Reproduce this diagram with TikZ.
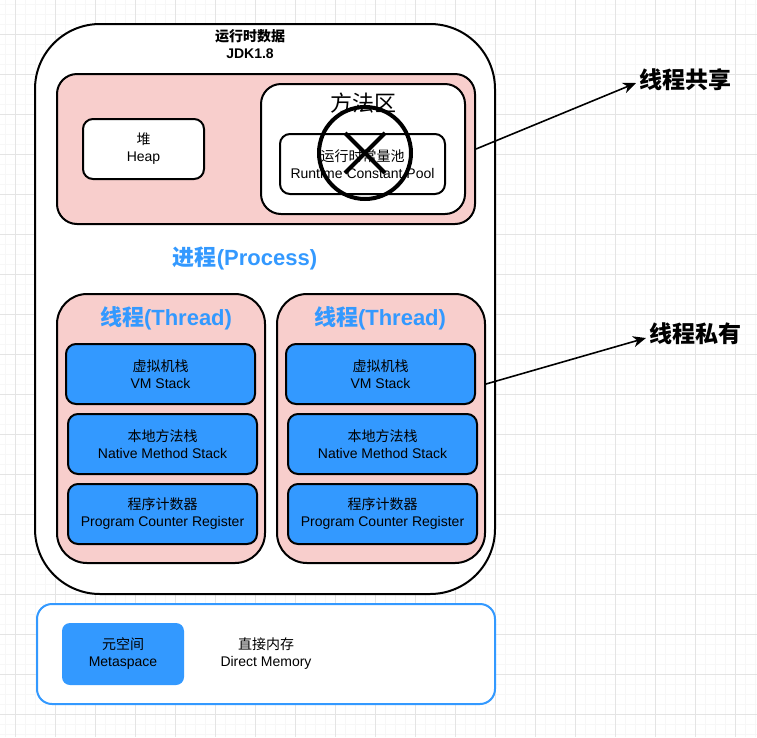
\documentclass[tikz,border=0pt]{standalone}
\usepackage{fontspec}
\setmainfont{Liberation Sans}
\newfontfamily\cjk{Noto Sans CJK SC}
\usepackage{tikz}
\usetikzlibrary{positioning,arrows.meta}
\definecolor{pinkfill}{HTML}{F8CECC}
\definecolor{blueboxfill}{HTML}{3399FF}
\definecolor{gridmajor}{HTML}{E4E4E4}
\definecolor{gridminor}{HTML}{F7F7F7}
\tikzstyle{every node}=[align=center,font=\fontsize{14}{17}\selectfont]
\tikzstyle{area}=[draw=black,line width=2pt,rounded corners=20pt,fill=pinkfill]
\tikzstyle{whitebox}=[draw=black,line width=2pt,rounded corners=10pt,fill=white]
\tikzstyle{bluebox}=[draw=black,line width=2pt,rounded corners=10pt,fill=blueboxfill,
  minimum width=189pt,minimum height=60pt]
\tikzstyle{bigtitle}=[font=\fontsize{22}{26}\selectfont\bfseries,text=blueboxfill]
\tikzstyle{sidelabel}=[font=\fontsize{23}{27}\selectfont\bfseries,anchor=west]
\tikzstyle{pointer}=[-{Stealth[length=13pt,width=11pt,inset=4pt]},line width=1.6pt]

\begin{document}
\begin{tikzpicture}[x=1pt,y=-1pt]
  \useasboundingbox (0,0) rectangle (757,737);
  % grid
  \foreach \gx in {5,15,...,755} \draw[gridminor,line width=1pt] (\gx,0) -- (\gx,737);
  \foreach \gy in {4,14,...,734} \draw[gridminor,line width=1pt] (0,\gy) -- (757,\gy);
  \foreach \gx in {15,55,...,735} \draw[gridmajor,line width=1pt] (\gx,0) -- (\gx,737);
  \foreach \gy in {34,74,...,714} \draw[gridmajor,line width=1pt] (0,\gy) -- (757,\gy);

  % runtime data
  \node[draw=black,line width=2pt,rounded corners=65pt,fill=white,
    minimum width=460pt,minimum height=570pt] (runtime) at (265,309) {};
  \node[font=\fontsize{14}{17}\selectfont\bfseries] (rttitle) at (250,44) {{\cjk 运行时数据}\\JDK1.8};

  % shared
  \node[area,minimum width=418pt,minimum height=150pt] (shared) at (266,149) {};
  \node[whitebox,minimum width=121pt,minimum height=60pt] (heap) at (143.5,149) {{\cjk 堆}\\Heap};
  \node[whitebox,rounded corners=20pt,minimum width=204pt,minimum height=130pt] (method) at (363,149) {};
  \node[font=\fontsize{22}{26}\selectfont\cjk] (methodtitle) at (363,103) {方法区};
  \node[whitebox,minimum width=165pt,minimum height=60pt] (pool) at (362.5,164) {{\cjk 运行时常量池}\\Runtime Constant Pool};
  \draw[line width=4pt] (365,153) circle (46);
  \draw[line width=4pt] (345,133) -- (385,173) (385,133) -- (345,173);

  \node[bigtitle] (process) at (245,258) {{\cjk 进程}(Process)};

  % threads
  \node[area,rounded corners=30pt,minimum width=208pt,minimum height=269pt] (lthread) at (161,428.5) {};
  \node[area,rounded corners=30pt,minimum width=208pt,minimum height=269pt] (rthread) at (381,428.5) {};
  \node[bigtitle] (ltitle) at (166,318) {{\cjk 线程}(Thread)};
  \node[bigtitle] (rtitle) at (380,318) {{\cjk 线程}(Thread)};
  \node[bluebox] (lvm) at (160.5,374) {{\cjk 虚拟机栈}\\VM Stack};
  \node[bluebox] (lnative) at (162.5,444) {{\cjk 本地方法栈}\\Native Method Stack};
  \node[bluebox] (lpc) at (162.5,514) {{\cjk 程序计数器}\\Program Counter Register};
  \node[bluebox] (rvm) at (380.5,374) {{\cjk 虚拟机栈}\\VM Stack};
  \node[bluebox] (rnative) at (382.5,444) {{\cjk 本地方法栈}\\Native Method Stack};
  \node[bluebox] (rpc) at (382.5,514) {{\cjk 程序计数器}\\Program Counter Register};

  % direct memory
  \node[draw=blueboxfill,line width=2pt,rounded corners=15pt,fill=white,
    minimum width=458pt,minimum height=100pt] (native) at (266,654) {};
  \node[fill=blueboxfill,rounded corners=8pt,minimum width=122pt,minimum height=62pt] (meta) at (123,654) {{\cjk 元空间}\\Metaspace};
  \node (direct) at (266,654) {{\cjk 直接内存}\\Direct Memory};

  % labels
  \node[sidelabel] (sharedlabel) at (636,80) {\cjk 线程共享};
  \node[sidelabel] (privatelabel) at (646,334) {\cjk 线程私有};
  \draw[pointer] (shared.east) -- ([yshift=-3pt]sharedlabel.west);
  \draw[pointer] ([yshift=44.5pt]rthread.east) -- ([yshift=-4pt]privatelabel.west);
\end{tikzpicture}
\end{document}
